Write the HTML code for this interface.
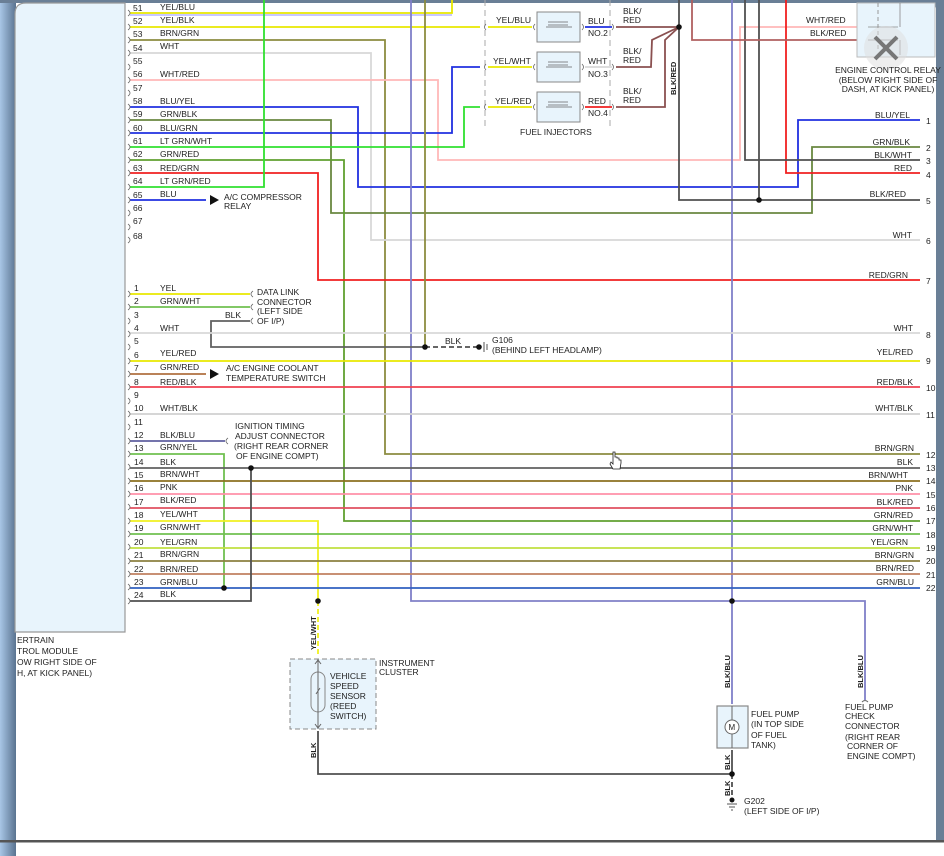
<!DOCTYPE html>
<html><head><meta charset="utf-8"><style>
html,body{margin:0;padding:0;background:#fff;}
svg{display:block;font-family:"Liberation Sans",sans-serif;}
text{font-size:8.5px;fill:#222;}
</style></head><body>
<svg width="944" height="856" viewBox="0 0 944 856" xmlns="http://www.w3.org/2000/svg">
<defs>
<linearGradient id="lg" x1="0" x2="1"><stop offset="0" stop-color="#a8c6e6"/><stop offset="1" stop-color="#5a7390"/></linearGradient>
</defs>
<rect width="944" height="856" fill="#fff"/>
<rect x="0" y="0" width="16" height="856" fill="url(#lg)"/>
<rect x="0" y="0" width="944" height="3" fill="#6a7f96"/>
<rect x="936" y="0" width="8" height="842" fill="#6a7f96"/>
<path d="M936 3 h-6 a6 6 0 0 1 6 6z" fill="#6a7f96"/>
<rect x="0" y="840" width="944" height="2.5" fill="#555"/>
<path d="M15 632 V14 Q15 3 26 3 H125 V632 Z" fill="#e8f4fc" stroke="#999" stroke-width="1.2"/>
<text x="17" y="643">ERTRAIN</text>
<text x="17" y="654">TROL MODULE</text>
<text x="17" y="665">OW RIGHT SIDE OF</text>
<text x="17" y="676">H, AT KICK PANEL)</text>

<g fill="none" stroke-width="1.8" stroke-linejoin="miter">
<polyline stroke="#c0c0ff" points="130,15 452,15"/>
<polyline stroke="#e8e800" points="130,13 452,13 452,0"/>
<polyline stroke="#e8e800" points="130,27 480,27"/>
<polyline stroke="#8c8c40" points="130,40 385,40 385,454 920,454"/>
<polyline stroke="#d8d8d8" points="130,53 371,53 371,240 920,240"/>
<polyline stroke="#ffb8b8" points="130,80 438,80 438,160 740,160 740,27 862,27"/>
<polyline stroke="#2030e0" points="130,107 358,107 358,187 798,187 798,120 920,120"/>
<polyline stroke="#6a8840" points="130,120 331,120 331,213 812,213 812,147 920,147"/>
<polyline stroke="#2030e0" points="130,133 452,133 452,67 480,67"/>
<polyline stroke="#30e030" points="130,147 464,147 464,107 480,107"/>
<polyline stroke="#60a030" points="130,160 344,160 344,521 920,521"/>
<polyline stroke="#f02020" points="130,173 318,173 318,280 920,280"/>
<polyline stroke="#30e030" points="130,187 264,187 264,0"/>
<polyline stroke="#2030e0" points="130,200 206,200"/>
<polyline stroke="#8080c8" points="411,0 411,601 865,601 865,700"/>
<polyline stroke="#8080c8" points="732,0 732,704"/>
<polyline stroke="#8c8c40" points="425,0 425,347"/>
<polyline stroke="#505050" points="679,0 679,200 759,200"/>
<polyline stroke="#505050" points="759,0 759,200 920,200"/>
<polyline stroke="#f02020" points="786,0 786,173 920,173"/>
<polyline stroke="#505050" points="745,0 745,160 920,160"/>
<polyline stroke="#b06060" points="692,0 692,40 862,40"/>
<polyline stroke="#2030e0" points="585,27 612,27"/>
<polyline stroke="#d8d8d8" points="585,67 612,67"/>
<polyline stroke="#f02020" points="585,107 612,107"/>
<polyline stroke="#8a5050" points="616,27 679,27"/>
<polyline stroke="#8a5050" points="616,67 651,67 652,40 679,27"/>
<polyline stroke="#8a5050" points="616,107 665,107 665,40 679,27"/>
<polyline stroke="#e8e800" points="488,27 532,27"/>
<polyline stroke="#e8e800" points="488,67 532,67"/>
<polyline stroke="#e8e800" points="488,107 532,107"/>
<polyline stroke="#e8e800" points="130,294 250,294"/>
<polyline stroke="#70c050" points="130,307 250,307"/>
<polyline stroke="#606060" points="250,321 211,321 211,347 425,347"/>
<polyline stroke="#d8d8d8" points="130,333 920,333"/>
<polyline stroke="#e8e800" points="130,361 920,361"/>
<polyline stroke="#b07040" points="130,374 206,374"/>
<polyline stroke="#f04050" points="130,387 920,387"/>
<polyline stroke="#d0d0d0" points="130,414 920,414"/>
<polyline stroke="#6060a0" points="130,441 225,441"/>
<polyline stroke="#70c050" points="130,454 224,454 224,588"/>
<polyline stroke="#606060" points="130,468 920,468"/>
<polyline stroke="#8c7020" points="130,481 920,481"/>
<polyline stroke="#ff90a8" points="130,494 920,494"/>
<polyline stroke="#e05060" points="130,508 920,508"/>
<polyline stroke="#f0f020" points="130,521 318,521 318,601"/>
<polyline stroke="#70c050" points="130,534 920,534"/>
<polyline stroke="#c0e040" points="130,548 920,548"/>
<polyline stroke="#8c8040" points="130,561 920,561"/>
<polyline stroke="#c08060" points="130,574 920,574"/>
<polyline stroke="#3060c0" points="130,588 920,588"/>
<polyline stroke="#505050" points="130,601 251,601 251,468"/>
<polyline stroke="#f0f020" stroke-dasharray="5,3" points="318,601 318,657"/>
<polyline stroke="#505050" points="318,731 318,774 732,774"/>
<polyline stroke="#505050" points="732,750 732,774"/>
<polyline stroke="#505050" stroke-dasharray="5,3" points="732,774 732,796"/>
<polyline stroke="#505050" stroke-dasharray="5,3" points="425,347 478,347"/>
</g>
<path d="M210 195 L219 200 L210 205Z" fill="#111"/>
<path d="M210 369 L219 374 L210 379Z" fill="#111"/>
<g fill="#111">
<circle cx="679" cy="27" r="2.8"/><circle cx="759" cy="200" r="2.8"/>
<circle cx="425" cy="347" r="2.8"/><circle cx="479" cy="347" r="2.8"/>
<circle cx="251" cy="468" r="2.8"/><circle cx="224" cy="588" r="2.8"/>
<circle cx="318" cy="601" r="2.8"/><circle cx="732" cy="601" r="2.8"/>
<circle cx="732" cy="774" r="2.8"/><circle cx="732" cy="800" r="2.5"/>
</g>
<path d="M484 342 v10 M487 344 v6" stroke="#555"/>
<path d="M727 804 h10 M729 807 h6 M731 810 h2" stroke="#555"/>

<g fill="none" stroke="#666" stroke-width="0.8">
<path d="M128 10 q4 3 0 6 M128 24 q4 3 0 6 M128 37 q4 3 0 6 M128 50 q4 3 0 6 M128 64 q4 3 0 6 M128 77 q4 3 0 6 M128 90 q4 3 0 6 M128 104 q4 3 0 6 M128 117 q4 3 0 6 M128 130 q4 3 0 6 M128 144 q4 3 0 6 M128 157 q4 3 0 6 M128 170 q4 3 0 6 M128 184 q4 3 0 6 M128 197 q4 3 0 6 M128 210 q4 3 0 6 M128 224 q4 3 0 6 M128 237 q4 3 0 6"/>
<path d="M128 291 q4 3 0 6 M128 304 q4 3 0 6 M128 318 q4 3 0 6 M128 331 q4 3 0 6 M128 344 q4 3 0 6 M128 358 q4 3 0 6 M128 371 q4 3 0 6 M128 384 q4 3 0 6 M128 398 q4 3 0 6 M128 411 q4 3 0 6 M128 424 q4 3 0 6 M128 438 q4 3 0 6 M128 451 q4 3 0 6 M128 464 q4 3 0 6 M128 478 q4 3 0 6 M128 491 q4 3 0 6 M128 504 q4 3 0 6 M128 518 q4 3 0 6 M128 531 q4 3 0 6 M128 544 q4 3 0 6 M128 558 q4 3 0 6 M128 571 q4 3 0 6 M128 584 q4 3 0 6 M128 598 q4 3 0 6"/>
<path d="M253 291 q-4 3 0 6 M253 304 q-4 3 0 6 M253 318 q-4 3 0 6 M228 438 q-4 3 0 6"/>
</g>
<g>
<text x="133" y="11">51</text><text x="160" y="10">YEL/BLU</text>
<text x="133" y="24">52</text><text x="160" y="23">YEL/BLK</text>
<text x="133" y="37">53</text><text x="160" y="36">BRN/GRN</text>
<text x="133" y="51">54</text><text x="160" y="49">WHT</text>
<text x="133" y="64">55</text>
<text x="133" y="77">56</text><text x="160" y="77">WHT/RED</text>
<text x="133" y="91">57</text>
<text x="133" y="104">58</text><text x="160" y="104">BLU/YEL</text>
<text x="133" y="117">59</text><text x="160" y="117">GRN/BLK</text>
<text x="133" y="131">60</text><text x="160" y="131">BLU/GRN</text>
<text x="133" y="144">61</text><text x="160" y="144">LT GRN/WHT</text>
<text x="133" y="157">62</text><text x="160" y="157">GRN/RED</text>
<text x="133" y="171">63</text><text x="160" y="171">RED/GRN</text>
<text x="133" y="184">64</text><text x="160" y="184">LT GRN/RED</text>
<text x="133" y="198">65</text><text x="160" y="197">BLU</text>
<text x="133" y="211">66</text><text x="133" y="224">67</text><text x="133" y="239">68</text>
<text x="224" y="200">A/C COMPRESSOR</text><text x="224" y="209">RELAY</text>

<text x="134" y="291">1</text><text x="160" y="291">YEL</text>
<text x="134" y="304">2</text><text x="160" y="304">GRN/WHT</text>
<text x="134" y="318">3</text>
<text x="134" y="331">4</text><text x="160" y="331">WHT</text>
<text x="134" y="344">5</text>
<text x="134" y="358">6</text><text x="160" y="356">YEL/RED</text>
<text x="134" y="371">7</text><text x="160" y="370">GRN/RED</text>
<text x="134" y="385">8</text><text x="160" y="385">RED/BLK</text>
<text x="134" y="398">9</text>
<text x="134" y="411">10</text><text x="160" y="411">WHT/BLK</text>
<text x="134" y="425">11</text>
<text x="134" y="438">12</text><text x="160" y="438">BLK/BLU</text>
<text x="134" y="451">13</text><text x="160" y="450">GRN/YEL</text>
<text x="134" y="465">14</text><text x="160" y="465">BLK</text>
<text x="134" y="478">15</text><text x="160" y="477">BRN/WHT</text>
<text x="134" y="491">16</text><text x="160" y="490">PNK</text>
<text x="134" y="505">17</text><text x="160" y="503">BLK/RED</text>
<text x="134" y="518">18</text><text x="160" y="517">YEL/WHT</text>
<text x="134" y="531">19</text><text x="160" y="530">GRN/WHT</text>
<text x="134" y="545">20</text><text x="160" y="545">YEL/GRN</text>
<text x="134" y="558">21</text><text x="160" y="557">BRN/GRN</text>
<text x="134" y="572">22</text><text x="160" y="572">BRN/RED</text>
<text x="134" y="585">23</text><text x="160" y="585">GRN/BLU</text>
<text x="134" y="598">24</text><text x="160" y="597">BLK</text>

<text x="257" y="295">DATA LINK</text><text x="257" y="305">CONNECTOR</text>
<text x="257" y="314">(LEFT SIDE</text><text x="257" y="324">OF I/P)</text>
<text x="225" y="318">BLK</text>
<text x="445" y="344">BLK</text>
<text x="492" y="343">G106</text><text x="492" y="353">(BEHIND LEFT HEADLAMP)</text>
<text x="226" y="371">A/C ENGINE COOLANT</text><text x="226" y="381">TEMPERATURE SWITCH</text>
<text x="235" y="429">IGNITION TIMING</text><text x="235" y="439">ADJUST CONNECTOR</text>
<text x="234" y="449">(RIGHT REAR CORNER</text><text x="236" y="459">OF ENGINE COMPT)</text>

<g text-anchor="end">
<text x="910" y="118">BLU/YEL</text><text x="910" y="145">GRN/BLK</text>
<text x="912" y="158">BLK/WHT</text><text x="912" y="171">RED</text>
<text x="906" y="197">BLK/RED</text><text x="912" y="238">WHT</text>
<text x="908" y="278">RED/GRN</text><text x="913" y="331">WHT</text>
<text x="913" y="355">YEL/RED</text><text x="913" y="385">RED/BLK</text>
<text x="913" y="411">WHT/BLK</text><text x="914" y="451">BRN/GRN</text>
<text x="913" y="465">BLK</text><text x="908" y="478">BRN/WHT</text>
<text x="913" y="491">PNK</text><text x="913" y="505">BLK/RED</text>
<text x="913" y="518">GRN/RED</text><text x="913" y="531">GRN/WHT</text>
<text x="908" y="545">YEL/GRN</text><text x="914" y="558">BRN/GRN</text>
<text x="914" y="571">BRN/RED</text><text x="914" y="585">GRN/BLU</text>
</g>
<g>
<text x="926" y="124">1</text><text x="926" y="151">2</text><text x="926" y="164">3</text><text x="926" y="178">4</text>
<text x="926" y="204">5</text><text x="926" y="244">6</text><text x="926" y="284">7</text><text x="926" y="338">8</text>
<text x="926" y="364">9</text><text x="926" y="391">10</text><text x="926" y="418">11</text><text x="926" y="458">12</text>
<text x="926" y="471">13</text><text x="926" y="484">14</text><text x="926" y="498">15</text><text x="926" y="511">16</text>
<text x="926" y="524">17</text><text x="926" y="538">18</text><text x="926" y="551">19</text><text x="926" y="564">20</text>
<text x="926" y="578">21</text><text x="926" y="591">22</text>
</g>

<path d="M485 0 V130 M610 0 V130" stroke="#aaa" stroke-dasharray="6,4" fill="none"/>
<g fill="#e8f4fc" stroke="#888" stroke-width="1">
<rect x="537" y="12" width="43" height="30"/><rect x="537" y="52" width="43" height="30"/><rect x="537" y="92" width="43" height="30"/>
</g>
<g stroke="#666" fill="none" stroke-width="0.8">
<path d="M548 22 h20 M548 25 h20 M546 27 h26 M548 62 h20 M548 65 h20 M546 67 h26 M548 102 h20 M548 105 h20 M546 107 h26"/>
<path d="M486 24 q-3 3 0 6 M486 64 q-3 3 0 6 M486 104 q-3 3 0 6 M535 24 q-3 3 0 6 M535 64 q-3 3 0 6 M535 104 q-3 3 0 6 M582 24 q3 3 0 6 M582 64 q3 3 0 6 M582 104 q3 3 0 6 M612 24 q3 3 0 6 M612 64 q3 3 0 6 M612 104 q3 3 0 6"/>
</g>
<text x="496" y="23">YEL/BLU</text><text x="493" y="64">YEL/WHT</text><text x="495" y="104">YEL/RED</text>
<text x="588" y="24">BLU</text><text x="588" y="36">NO.2</text>
<text x="588" y="64">WHT</text><text x="588" y="77">NO.3</text>
<text x="588" y="104">RED</text><text x="588" y="116">NO.4</text>
<text x="623" y="14">BLK/</text><text x="623" y="23">RED</text>
<text x="623" y="54">BLK/</text><text x="623" y="63">RED</text>
<text x="623" y="94">BLK/</text><text x="623" y="103">RED</text>
<text x="520" y="135">FUEL INJECTORS</text>
<text transform="translate(676,95) rotate(-90)" font-weight="bold" style="font-size:7.5px">BLK/RED</text>

<rect x="857" y="3" width="78" height="54" fill="#e8f4fc" stroke="#bbb"/>
<path d="M878 3 V50" stroke="#999" stroke-dasharray="4,3"/>
<path d="M868 27 h30 M868 40 h30 M900 3 v24 M900 40 v15" stroke="#888" fill="none" stroke-width="0.8"/>
<circle cx="886" cy="48" r="22" fill="#ddd" opacity="0.5"/>
<path d="M875 37 L897 59 M897 37 L875 59" stroke="#777" stroke-width="4"/>
<text x="806" y="23">WHT/RED</text>
<text x="810" y="36">BLK/RED</text>
<text x="888" y="73" text-anchor="middle">ENGINE CONTROL RELAY</text>
<text x="888" y="83" text-anchor="middle">(BELOW RIGHT SIDE OF</text>
<text x="888" y="92" text-anchor="middle">DASH, AT KICK PANEL)</text>

<rect x="290" y="659" width="86" height="70" fill="#e8f4fc" stroke="#888" stroke-dasharray="5,3"/>
<rect x="311" y="672" width="14" height="40" rx="7" fill="none" stroke="#888"/>
<path d="M318 659 V729 M315 664 l3 -4 l3 4 M315 724 l3 4 l3 -4 M316 694 l4 -6" stroke="#666" fill="none"/>
<text x="330" y="679">VEHICLE</text><text x="330" y="689">SPEED</text><text x="330" y="699">SENSOR</text>
<text x="330" y="709">(REED</text><text x="330" y="719">SWITCH)</text>
<text x="379" y="666">INSTRUMENT</text><text x="379" y="675">CLUSTER</text>
<text transform="translate(316,650) rotate(-90)" font-weight="bold" style="font-size:7.5px">YEL/WHT</text>
<text transform="translate(316,758) rotate(-90)" font-weight="bold" style="font-size:7.5px">BLK</text>

<rect x="717" y="706" width="31" height="42" fill="#e8f4fc" stroke="#888" stroke-width="1.2"/>
<circle cx="732" cy="727" r="7" fill="#fff" stroke="#666"/>
<text x="728.5" y="730" style="font-size:8px">M</text>
<path d="M732 706 V720 M732 734 V748" stroke="#666"/>
<text x="751" y="717">FUEL PUMP</text><text x="751" y="727">(IN TOP SIDE</text><text x="751" y="738">OF FUEL</text><text x="751" y="748">TANK)</text>
<text transform="translate(730,688) rotate(-90)" font-weight="bold" style="font-size:7.5px">BLK/BLU</text>
<text transform="translate(730,770) rotate(-90)" font-weight="bold" style="font-size:7.5px">BLK</text>
<text transform="translate(730,796) rotate(-90)" font-weight="bold" style="font-size:7.5px">BLK</text>
<text x="744" y="804">G202</text><text x="744" y="814">(LEFT SIDE OF I/P)</text>
<text transform="translate(863,688) rotate(-90)" font-weight="bold" style="font-size:7.5px">BLK/BLU</text>
<path d="M862 702 q3 -3 6 0" stroke="#666" fill="none"/>
<text x="845" y="710">FUEL PUMP</text><text x="845" y="719">CHECK</text><text x="845" y="729">CONNECTOR</text>
<text x="845" y="740">(RIGHT REAR</text><text x="847" y="749">CORNER OF</text><text x="847" y="759">ENGINE COMPT)</text>
</g>
<path d="M613 452 v12 l-2 -2 l-1 2 l3 5 h7 l1 -6 v-3 h-2 v-2 h-2 v-1 h-2 v-5 z" fill="#fff" stroke="#222" stroke-width="0.8"/>
</svg>
</body></html>
